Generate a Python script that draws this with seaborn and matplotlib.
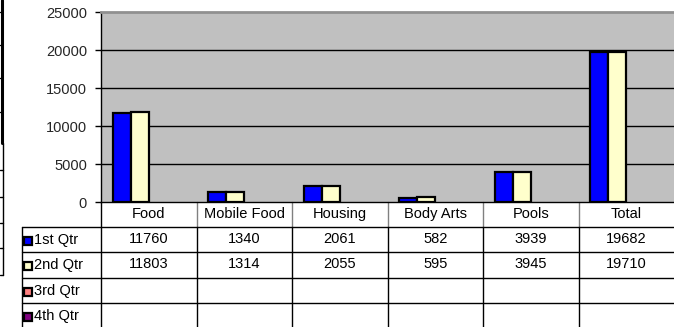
import matplotlib
matplotlib.use("Agg")
import matplotlib.pyplot as plt
import matplotlib.transforms as mtransforms
from matplotlib.patches import Rectangle
import seaborn as sns
import pandas as pd

categories = ["Food", "Mobile Food", "Housing", "Body Arts", "Pools", "Total"]
quarters = ["1st Qtr", "2nd Qtr", "3rd Qtr", "4th Qtr"]
q1 = [11760, 1340, 2061, 582, 3939, 19682]
q2 = [11803, 1314, 2055, 595, 3945, 19710]
q3 = [None, None, None, None, None, None]
q4 = [None, None, None, None, None, None]
y_ticks = [0, 5000, 10000, 15000, 20000, 25000]

colors = {"1st Qtr": "#0000FF", "2nd Qtr": "#FFFFCC",
          "3rd Qtr": "#FF8080", "4th Qtr": "#800080"}

rows = []
for q, vals in zip(quarters, [q1, q2, q3, q4]):
    for c, v in zip(categories, vals):
        rows.append({"category": c, "quarter": q,
                     "value": float(v) if v is not None else float("nan")})
df = pd.DataFrame(rows)

sns.set_theme(style="white")
plt.rcParams["font.family"] = ["Liberation Sans", "DejaVu Sans"]
FS = 10.5

W, H = 674, 327
fig = plt.figure(figsize=(W / 100, H / 100), dpi=100)
fig.patch.set_facecolor("white")

def fy(ypx):
    return 1 - ypx / H

def fx(xpx):
    return xpx / W

ax_left, ax_right, ax_top, ax_bot = 101, 674, 12, 202
ax = fig.add_axes([fx(ax_left), fy(ax_bot), fx(ax_right) - fx(ax_left),
                   (ax_bot - ax_top) / H])
ax.set_facecolor("#C0C0C0")

sns.barplot(data=df, x="category", y="value", hue="quarter",
            order=categories, hue_order=quarters, palette=colors,
            width=0.754, edgecolor="black", linewidth=1.6, saturation=1,
            legend=False, ax=ax, errorbar=None)

ax.set_xlim(-0.5, len(categories) - 0.5)
ax.set_ylim(0, 25000)
ax.set_yticks(y_ticks)
ax.set_yticklabels([str(t) for t in y_ticks], fontsize=FS)
ax.set_xticks([])
ax.set_xlabel("")
ax.set_ylabel("")
ax.tick_params(axis="y", direction="out", length=4, width=1, color="black",
               pad=6, left=True)
for t in y_ticks[1:-1]:
    ax.axhline(t, color="black", linewidth=1, zorder=0.5)
ax.set_axisbelow(True)
for s in ["left", "bottom"]:
    ax.spines[s].set_visible(True)
    ax.spines[s].set_color("black")
    ax.spines[s].set_linewidth(1)
ax.spines["top"].set_color("#909090")
ax.spines["top"].set_linewidth(2)
ax.spines["right"].set_visible(False)

# ---- data table below the chart ----
bt = mtransforms.blended_transform_factory(ax.transData, fig.transFigure)
ft = fig.transFigure

def fline(x0, x1, y0, y1, color="black", lw=1):
    fig.add_artist(plt.Line2D([fx(x0), fx(x1)], [fy(y0), fy(y1)],
                              transform=ft, color=color, linewidth=lw))

row_lines = [227, 252, 278, 303]
for y in row_lines:
    fline(22, 674, y, y)
fline(22, 22, 227, 327)
fline(101, 101, 202, 327)
for i in range(1, len(categories)):
    xs = i - 0.5
    ax.plot([xs, xs], [fy(202), fy(227)], transform=bt, color="#808080",
            linewidth=1, clip_on=False)
    ax.plot([xs, xs], [fy(227), fy(327)], transform=bt, color="black",
            linewidth=1, clip_on=False)

for i, c in enumerate(categories):
    ax.text(i, fy(214), c, transform=bt, ha="center", va="center",
            fontsize=FS, color="black")

row_centers = [240, 265, 291, 316]
for r, (q, vals) in enumerate(zip(quarters, [q1, q2, q3, q4])):
    yc = row_centers[r]
    fig.add_artist(Rectangle((fx(24), fy(yc + 4.5)), 8 / W, 8 / H,
                             transform=ft, facecolor=colors[q],
                             edgecolor="black", linewidth=1.6))
    fig.text(fx(34), fy(yc), q, ha="left", va="center", fontsize=FS,
             color="black")
    for i, v in enumerate(vals):
        if v is not None:
            ax.text(i, fy(yc - 1), str(v), transform=bt, ha="center",
                    va="center", fontsize=FS, color="black")

# fragment of neighbouring chart at the left edge
fline(2, 2, 0, 143, lw=2.2)
fline(2.5, 2.5, 143, 275, lw=1)
for y in [12, 45, 78, 112]:
    fline(0, 2, y, y, lw=1)
for y in [170, 197, 223, 248, 275]:
    fline(0, 2.5, y, y, lw=1)

fig.savefig("out.png", dpi=100, facecolor="white")
